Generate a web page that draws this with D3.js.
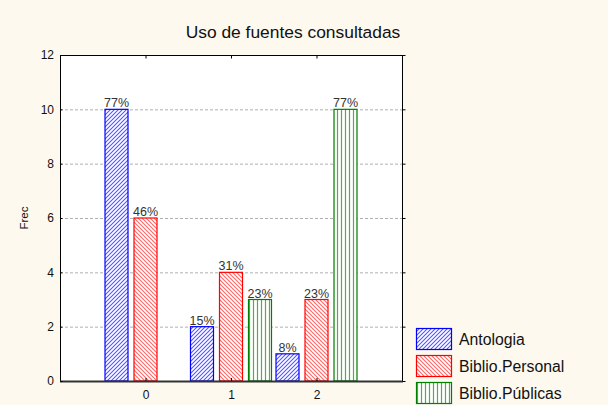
<!DOCTYPE html>
<html><head><meta charset="utf-8">
<script src="https://cdn.jsdelivr.net/npm/d3@7"></script>
<style>body{margin:0;background:#fdf9ef}svg{display:block}</style>
</head><body>
<svg id="c" width="608" height="405"></svg>
<script>
const categories = [0, 1, 2];
const seriesNames = ["Antologia", "Biblio.Personal", "Biblio.Públicas"];
const antologia = [10, 2, 1];
const biblioPersonal = [6, 4, 3];
const biblioPublicas = [0, 3, 10];
const pctAntologia = ["77%", "15%", "8%"];
const pctPersonal = ["46%", "31%", "23%"];
const pctPublicas = ["", "23%", "77%"];
const yTicks = [0, 2, 4, 6, 8, 10, 12];

const series = [
  {name: seriesNames[0], values: antologia, pct: pctAntologia, color: "#0000ff", pat: "pA"},
  {name: seriesNames[1], values: biblioPersonal, pct: pctPersonal, color: "#ff0000", pat: "pB"},
  {name: seriesNames[2], values: biblioPublicas, pct: pctPublicas, color: "#008000", pat: "pC"}
];

const fontF = "'Liberation Sans', Arial, sans-serif";
const svg = d3.select("#c");
const L = 60, R = 402, T = 55, B = 381;
const x = d3.scaleLinear().domain([-1, 3]).range([L, R]);
const y = d3.scaleLinear().domain([0, 12]).range([B, T]);
const off = d3.scaleLinear().domain([0, 1]).range([0, 29]);
const bw = 23;

const defs = svg.append("defs");
function pat(id, color, type) {
  const p = defs.append("pattern").attr("id", id).attr("patternUnits", "userSpaceOnUse")
    .attr("width", 4).attr("height", 4);
  p.append("rect").attr("width", 4).attr("height", 4).attr("fill", "#fff");
  if (type === "f") p.append("path").attr("d", "M-1,5 L5,-1 M-1,1 L1,-1 M3,5 L5,3").attr("stroke", color).attr("stroke-width", 1.1);
  if (type === "b") p.append("path").attr("d", "M-1,-1 L5,5 M-1,3 L1,5 M3,-1 L5,1").attr("stroke", color).attr("stroke-width", 1.1);
  if (type === "v") p.append("path").attr("d", "M1.5,0 L1.5,4").attr("stroke", color).attr("stroke-width", 1.2);
}
pat("pA", "#5555ff", "f");
pat("pB", "#ff6666", "b");
pat("pC", "#55a855", "v");

// title
svg.append("text").attr("x", 293).attr("y", 38).attr("text-anchor", "middle")
  .attr("font-family", fontF).attr("font-size", 17.4).attr("fill", "#111")
  .text("Uso de fuentes consultadas");

// plot bg
svg.append("rect").attr("x", L).attr("y", T).attr("width", R - L).attr("height", B - T).attr("fill", "#fff");

// grid
svg.append("g").selectAll("line").data(yTicks.filter(d => d > 0 && d < 12)).join("line")
  .attr("x1", L).attr("x2", R).attr("y1", d => y(d) + 0.5).attr("y2", d => y(d) + 0.5)
  .attr("stroke", "#b0b0b0").attr("stroke-dasharray", "3,2").attr("stroke-width", 1);

// bars
series.forEach((s, i) => {
  const g = svg.append("g");
  g.selectAll("rect").data(categories).join("rect")
    .attr("x", c => x(c) + off(i - 1) - bw / 2)
    .attr("y", (c, j) => y(s.values[j]))
    .attr("width", bw)
    .attr("height", (c, j) => y(0) - y(s.values[j]))
    .attr("fill", `url(#${s.pat})`)
    .attr("stroke", s.color).attr("stroke-width", 1.2);
  g.selectAll("text").data(categories).join("text")
    .attr("x", c => x(c) + off(i - 1))
    .attr("y", (c, j) => y(s.values[j]) - 2)
    .attr("text-anchor", "middle")
    .attr("font-family", fontF).attr("font-size", 12.5).attr("fill", "#333")
    .text((c, j) => s.pct[j]);
});

// frame
svg.append("rect").attr("x", L + 0.5).attr("y", T + 0.5).attr("width", R - L).attr("height", B - T)
  .attr("fill", "none").attr("stroke", "#000").attr("stroke-width", 1);
svg.append("line").attr("x1", L).attr("x2", R + 1).attr("y1", B + 0.5).attr("y2", B + 0.5)
  .attr("stroke", "#333").attr("stroke-width", 2);

// axes
const yAx = svg.append("g").attr("transform", `translate(${L},0)`)
  .call(d3.axisLeft(y).tickValues(yTicks).tickSize(0).tickPadding(6));
yAx.select(".domain").remove();
yAx.selectAll("text").attr("font-family", fontF).attr("font-size", 12).attr("fill", "#111");
const yR = svg.append("g").attr("transform", `translate(${R + 0.5},0)`)
  .call(d3.axisRight(y).tickValues(yTicks).tickSize(3).tickFormat(""));
yR.select(".domain").remove();
const yL = svg.append("g").attr("transform", `translate(${L + 0.5},0)`)
  .call(d3.axisRight(y).tickValues(yTicks).tickSize(2).tickFormat(""));
yL.select(".domain").remove();

const xAx = svg.append("g").attr("transform", `translate(0,${B})`)
  .call(d3.axisBottom(x).tickValues(categories).tickFormat(d3.format("d")).tickSize(0).tickPadding(9));
xAx.select(".domain").remove();
xAx.selectAll("text").attr("font-family", fontF).attr("font-size", 12).attr("fill", "#111");
const xIn = svg.append("g").attr("transform", `translate(0,${B})`)
  .call(d3.axisTop(x).tickValues(categories).tickSize(3).tickFormat(""));
xIn.select(".domain").remove();
const xTop = svg.append("g").attr("transform", `translate(0,${T + 0.5})`)
  .call(d3.axisBottom(x).tickValues(categories).tickSize(3).tickFormat(""));
xTop.select(".domain").remove();

svg.append("text").attr("transform", "translate(28,218) rotate(-90)").attr("text-anchor", "middle")
  .attr("font-family", fontF).attr("font-size", 11.5).attr("fill", "#111").text("Frec");

// legend
const lg = svg.append("g");
series.forEach((s, i) => {
  const yy = 328 + i * 27;
  lg.append("rect").attr("x", 416.5).attr("y", yy + 0.5).attr("width", 35).attr("height", 21)
    .attr("fill", `url(#${s.pat})`).attr("stroke", s.color).attr("stroke-width", 1.2);
  lg.append("text").attr("x", 459).attr("y", yy + 17).attr("font-family", fontF)
    .attr("font-size", 15.8).attr("fill", "#111").text(s.name);
});
</script>
</body></html>
